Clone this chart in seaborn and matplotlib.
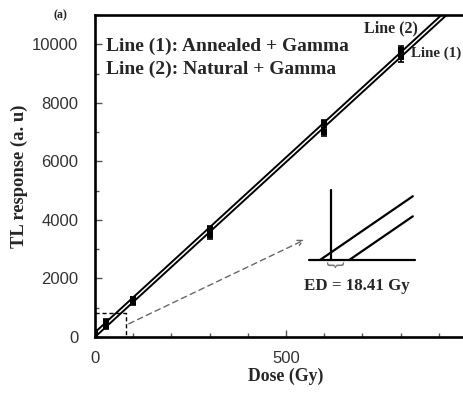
import numpy as np
import matplotlib
matplotlib.use("Agg")
import matplotlib.pyplot as plt
import seaborn as sns
import pandas as pd

# Data
dose = [0, 30, 100, 300, 600, 800]
tl_annealed = [20, 360, 1180, 3480, 7000, 9560]
tl_natural = [180, 520, 1300, 3680, 7300, 9800]
err_annealed = [60, 80, 80, 120, 130, 150]
err_natural = [60, 80, 80, 120, 130, 150]

# Linear fits
slope = 11.95
icpt_annealed = 0.0
icpt_natural = 160.0
fit_dose = [0, 1000]
ed_text = "ED = 18.41 Gy"

sns.set_style("ticks")
serif = ["Liberation Serif", "DejaVu Serif"]
sans = ["Liberation Sans", "DejaVu Sans"]
plt.rcParams["font.family"] = sans

fig = plt.figure(figsize=(4.64, 3.94), dpi=100)
ax = fig.add_axes([95 / 464, 57 / 394, 382 / 464, 322 / 394])

df = pd.DataFrame({
    "dose": dose * 2,
    "tl": tl_annealed + tl_natural,
    "err": err_annealed + err_natural,
    "line": ["Line (1)"] * len(dose) + ["Line (2)"] * len(dose),
})

# fitted lines
fit_x = np.array(fit_dose, dtype=float)
for b in [icpt_annealed, icpt_natural]:
    sns.lineplot(x=fit_x, y=slope * fit_x + b, color="black", lw=1.4, ax=ax)

ax.errorbar(df["dose"], df["tl"], yerr=df["err"], fmt="none", ecolor="black",
            elinewidth=1.2, capsize=2.5, capthick=1.2, zorder=3)
sns.scatterplot(data=df, x="dose", y="tl", marker="s", s=25, color="black",
                edgecolor="black", linewidth=0, ax=ax, zorder=4, legend=False)

ax.set_xlim(0, 1000)
ax.set_ylim(0, 11000)
ax.set_xticks([0, 500])
ax.set_xticks(np.arange(0, 1001, 100), minor=True)
ax.set_yticks(np.arange(0, 10001, 2000))
ax.set_yticks(np.arange(0, 11001, 1000), minor=True)
ax.tick_params(which="both", direction="in", width=1.0, color="#555555")
ax.tick_params(which="major", length=5, labelsize=12, labelcolor="#333333")
ax.tick_params(which="minor", length=3)
ax.tick_params(axis="y", pad=12)
ax.tick_params(axis="x", pad=10)
for s in ax.spines.values():
    s.set_linewidth(1.9)
    s.set_color("black")

ax.set_xlabel("Dose (Gy)", fontsize=12.8, fontweight="bold", family=serif, labelpad=1)
ax.set_ylabel("TL response (a. u)", fontsize=13.4, fontweight="bold", family=serif,
              labelpad=3)

# labels
tb = dict(fontweight="bold", family=serif)
ax.text(0.03, 0.902, "Line (1): Annealed + Gamma", transform=ax.transAxes,
        fontsize=14, va="center", **tb)
ax.text(0.03, 0.83, "Line (2): Natural + Gamma", transform=ax.transAxes,
        fontsize=14, va="center", **tb)
ax.text(703, 10540, "Line (2)", fontsize=11.5, va="center", **tb)
ax.text(828, 9700, "Line (1)", fontsize=10.8, va="center", clip_on=False, **tb)
fig.text(60 / 464, 1 - 15 / 394, "(a)", fontsize=8.5, va="center", ha="center", **tb)

# zoom box and arrow
ax.plot([0, 80, 80], [820, 820, 0], ls=(0, (3, 2)), color="black", lw=1.0)
ax.annotate("", xy=(555, 3360), xytext=(82, 410),
            arrowprops=dict(arrowstyle="->", ls=(0, (4, 3)), color="#666666", lw=1.0))

# schematic inset
ins = fig.add_axes([308 / 464, 1 - 270 / 394, 108 / 464, 85 / 394])
ins.set_xlim(-26, 42)
ins.set_ylim(-110, 821)
ins.axis("off")
ins.plot([-25.4, 41.3], [0, 0], color="black", lw=1.6)
ins.plot([-11.4, -11.4], [0, 767], color="black", lw=1.6)
ix = np.array([-18.41, 40.0])
ins.plot(ix, slope * (ix + 18.41), color="black", lw=1.6)
ix2 = np.array([0.0, 40.0])
ins.plot(ix2, slope * ix2, color="black", lw=1.6)
ins.text(-9.2, -10, "}", rotation=-90, fontsize=14, color="#777777",
         ha="center", va="top", family=sans)
fig.text(357 / 464, 1 - 286 / 394, ed_text, fontsize=12.2, ha="center", va="center", **tb)

fig.savefig("out.png", dpi=100)
